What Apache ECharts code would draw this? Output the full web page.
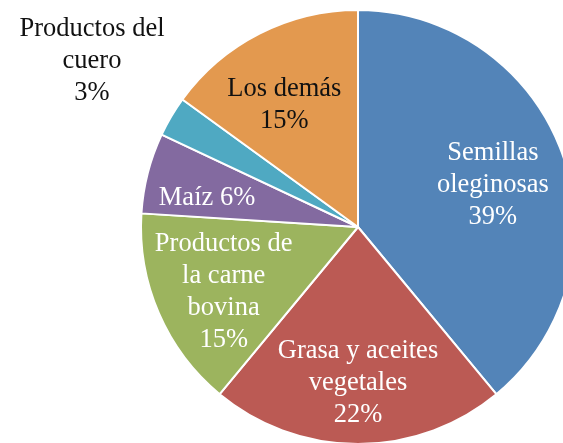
<!DOCTYPE html>
<html>
<head>
<meta charset="utf-8">
<script src="https://cdn.jsdelivr.net/npm/echarts@6/dist/echarts.min.js"></script>
<style>
  html, body { margin: 0; padding: 0; background: #fff; }
  #chart { width: 563px; height: 443px; }
</style>
</head>
<body>
<div id="chart"></div>
<script>
const names = [
  'Semillas\noleginosas',
  'Grasa y aceites\nvegetales',
  'Productos de\nla carne\nbovina',
  'Maíz',
  'Productos del\ncuero',
  'Los demás'
];
const values = [39, 22, 15, 6, 3, 15];
const colors = ['#5384b8', '#bb5a54', '#9cb45e', '#836aa0', '#4fa9c2', '#e3994f'];

// label offsets relative to the 'inside' anchor
const offsets = [[30, -4], [0, 45], [-32, 21], [-43, -1], [0, 0], [-23, -23]];

const chart = echarts.init(document.getElementById('chart'));

const data = names.map((name, i) => {
  const item = {
    name,
    value: values[i],
    itemStyle: { color: colors[i] },
    label: {
      offset: offsets[i],
      color: i === 5 ? '#111' : '#fff'
    }
  };
  if (i === 3) {
    item.label.formatter = '{b} {c}%';
  }
  if (i === 4) {
    item.label = { position: 'outside', color: '#111', overflow: 'none', width: 220 };
    item.labelLine = { show: false };
  }
  return item;
});

chart.setOption({
  animation: false,
  series: [
    {
      type: 'pie',
      center: [358, 227],
      radius: 217,
      startAngle: 90,
      clockwise: true,
      itemStyle: { borderColor: '#fff', borderWidth: 2 },
      label: {
        show: true,
        position: 'inside',
        formatter: '{b}\n{c}%',
        fontFamily: 'Liberation Serif',
        fontSize: 26.5,
        lineHeight: 32,
        align: 'center'
      },
      labelLine: { show: false },
      labelLayout: (params) => {
        if (params.dataIndex === 4) {
          return { x: 92, y: 61, align: 'center', verticalAlign: 'middle' };
        }
        return {};
      },
      data
    }
  ]
});
</script>
</body>
</html>
